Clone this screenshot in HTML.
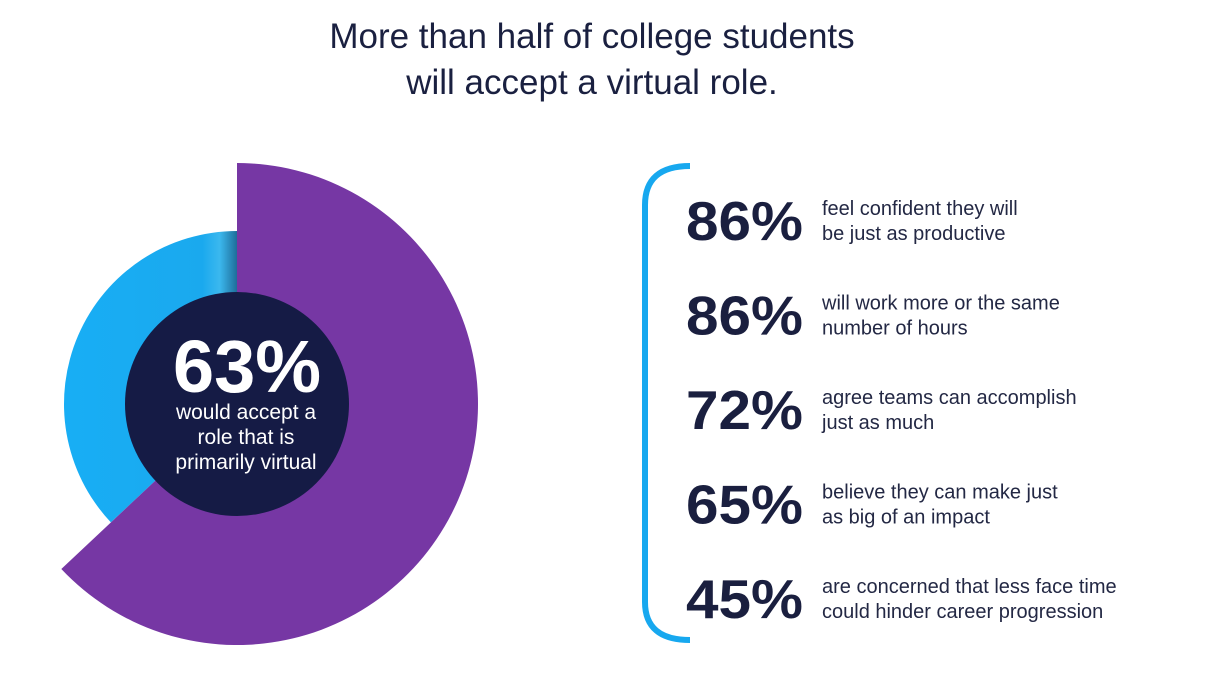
<!DOCTYPE html>
<html><head><meta charset="utf-8"><style>
html,body{margin:0;padding:0;background:#fff;}
body{width:1218px;height:688px;overflow:hidden;font-family:"Liberation Sans",sans-serif;}
</style></head><body>
<svg id="chart" width="1218" height="688" xmlns="http://www.w3.org/2000/svg">
<defs>
<linearGradient id="blueGrad" x1="0" y1="0" x2="1" y2="0">
<stop offset="0" stop-color="#18aef5"/><stop offset="0.8" stop-color="#1aa9ee"/><stop offset="0.9" stop-color="#3bb8ee"/><stop offset="1" stop-color="#1e6e9a"/>
</linearGradient>
</defs>
<text x="592" y="48" text-anchor="middle" font-size="35" fill="#1a2040">More than half of college students</text>
<text x="592" y="94" text-anchor="middle" font-size="35" fill="#1a2040">will accept a virtual role.</text>
<g id="donut"></g>
<path d="M690,166 Q645,166 645,205 L645,602 Q645,640 690,640" fill="none" stroke="#17a8ef" stroke-width="6"/>
<g id="stats"></g>
</svg>
<script>
const donutValue = 63;
const donutLabel = ["would accept a", "role that is", "primarily virtual"];
const statValues = [86, 86, 72, 65, 45];
const statLine1 = ["feel confident they will", "will work more or the same", "agree teams can accomplish", "believe they can make just", "are concerned that less face time"];
const statLine2 = ["be just as productive", "number of hours", "just as much", "as big of an impact", "could hinder career progression"];

const NS = "http://www.w3.org/2000/svg";
const cx = 237, cy = 404, Rp = 241, Rb = 173, Ri = 112;
function pt(r, frac){const a = frac*2*Math.PI; return [cx + r*Math.sin(a), cy - r*Math.cos(a)];}
const g = document.getElementById('donut');
const f = donutValue/100;
// blue remainder
const b0 = pt(Rb, f), b1 = pt(Rb, 1);
const blue = document.createElementNS(NS,'path');
blue.setAttribute('d', `M${cx},${cy} L${b0[0]},${b0[1]} A${Rb},${Rb} 0 ${(1-f)>0.5?1:0} 1 ${b1[0]},${b1[1]} Z`);
blue.setAttribute('fill','url(#blueGrad)');


g.appendChild(blue);
// purple main
const p0 = pt(Rp, 0), p1 = pt(Rp, f);
const purple = document.createElementNS(NS,'path');
purple.setAttribute('d', `M${cx},${cy} L${p0[0]},${p0[1]} A${Rp},${Rp} 0 ${f>0.5?1:0} 1 ${p1[0]},${p1[1]} Z`);
purple.setAttribute('fill','#7637a4');


g.appendChild(purple);
const inner = document.createElementNS(NS,'circle');
inner.setAttribute('cx',cx);inner.setAttribute('cy',cy);inner.setAttribute('r',Ri);inner.setAttribute('fill','#151b45');


g.appendChild(inner);
const big = document.createElementNS(NS,'text');
big.setAttribute('x',cx+10);big.setAttribute('y',392);big.setAttribute('text-anchor','middle');
big.setAttribute('font-size','74');big.setAttribute('font-weight','bold');big.setAttribute('fill','#fff');
big.textContent = donutValue + '%';


g.appendChild(big);
donutLabel.forEach((s,i)=>{
  const t = document.createElementNS(NS,'text');
  t.setAttribute('x',cx+9);t.setAttribute('y',419+i*25);t.setAttribute('text-anchor','middle');
  t.setAttribute('font-size','21');t.setAttribute('fill','#fff');
  t.textContent = s;
  
  
  g.appendChild(t);
});
const sg = document.getElementById('stats');
const rowY = [240, 332, 427, 523, 618];
statValues.forEach((v,i)=>{
  const y = 240 + i*94.5;
  const n = document.createElementNS(NS,'text');
  n.setAttribute('x',686);n.setAttribute('y',y);n.setAttribute('font-size','55');n.setAttribute('font-weight','bold');n.setAttribute('fill','#1a1f3f');
  n.setAttribute('textLength','117');n.setAttribute('lengthAdjust','spacingAndGlyphs');
  n.textContent = v + '%';
  
  
  sg.appendChild(n);
  [statLine1[i], statLine2[i]].forEach((s,j)=>{
    const t = document.createElementNS(NS,'text');
    t.setAttribute('x',822);t.setAttribute('y',y-25+j*25);t.setAttribute('font-size','20');t.setAttribute('fill','#232844');
    t.textContent = s;
    
    
    sg.appendChild(t);
  });
});
</script>
</body></html>
